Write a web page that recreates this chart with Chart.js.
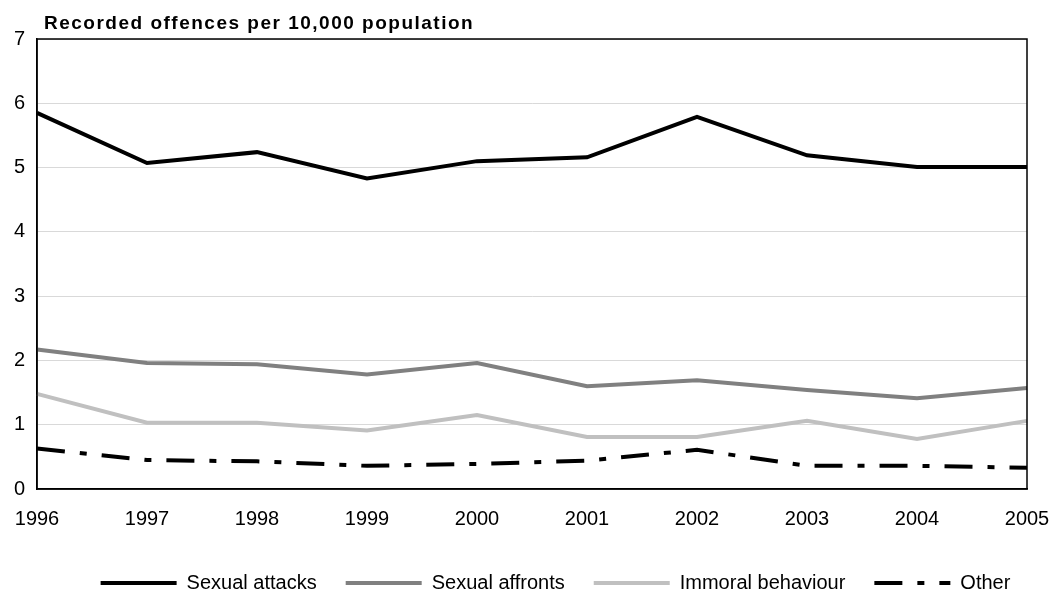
<!DOCTYPE html>
<html>
<head>
<meta charset="utf-8">
<title>Recorded offences per 10,000 population</title>
<script src="https://cdn.jsdelivr.net/npm/chart.js@4/dist/chart.umd.min.js"></script>
<style>
  html, body { margin: 0; padding: 0; background: #ffffff; }
  #wrap { width: 1061px; height: 593px; position: relative; }
</style>
</head>
<body>
<div id="wrap"><canvas id="chart" width="1061" height="593"></canvas></div>
<script>
// Years on the horizontal axis
const years = ['1996', '1997', '1998', '1999', '2000', '2001', '2002', '2003', '2004', '2005'];

// Recorded offences per 10,000 population, by offence type
const sexualAttacks    = [5.85, 5.07, 5.24, 4.83, 5.10, 5.16, 5.79, 5.19, 5.01, 5.01];
const sexualAffronts   = [2.17, 1.96, 1.94, 1.78, 1.96, 1.60, 1.69, 1.54, 1.41, 1.57];
const immoralBehaviour = [1.48, 1.03, 1.03, 0.91, 1.15, 0.81, 0.81, 1.06, 0.78, 1.06];
const otherOffences    = [0.63, 0.45, 0.43, 0.36, 0.39, 0.44, 0.61, 0.36, 0.36, 0.33];

const yTicks = [0, 1, 2, 3, 4, 5, 6, 7];
const titleText = 'Recorded offences per 10,000 population';

const FONT = '"Liberation Sans", Arial, Helvetica, sans-serif';

// Heading above the plot, drawn with slightly widened letter spacing
const headingPlugin = {
  id: 'heading',
  afterDraw(chart) {
    const ctx = chart.ctx;
    ctx.save();
    ctx.font = 'bold 19px ' + FONT;
    if ('letterSpacing' in ctx) ctx.letterSpacing = '1.5px';
    ctx.fillStyle = '#000000';
    ctx.textAlign = 'left';
    ctx.textBaseline = 'alphabetic';
    ctx.fillText(titleText, 44, 29);
    ctx.restore();
  }
};

// Closed frame round the plot area
const framePlugin = {
  id: 'frame',
  afterDatasetsDraw(chart) {
    const a = chart.chartArea;
    const ctx = chart.ctx;
    ctx.save();
    ctx.strokeStyle = '#000000';
    ctx.lineWidth = 1.5;
    ctx.strokeRect(a.left, a.top, a.right - a.left, a.bottom - a.top);
    ctx.restore();
  }
};

// Place the legend row along the bottom edge, a little right of centre
const legendPlacePlugin = {
  id: 'legendPlace',
  afterLayout(chart) {
    const lg = chart.legend;
    if (!lg) return;
    const dx = 42, dy = 10;
    lg.left += dx; lg.right += dx;
    lg.top += dy; lg.bottom += dy;
  }
};

// Legend samples take the line width and dash pattern of their series
function lineLegendLabels(chart) {
  const items = Chart.defaults.plugins.legend.labels.generateLabels(chart);
  items.forEach(item => {
    const ds = chart.data.datasets[item.datasetIndex];
    item.lineWidth = ds.borderWidth;
    item.strokeStyle = ds.borderColor;
    item.lineDash = ds.borderDash || [];
    item.lineCap = 'butt';
  });
  return items;
}

const ctx = document.getElementById('chart').getContext('2d');
new Chart(ctx, {
  type: 'line',
  data: {
    labels: years,
    datasets: [
      {
        label: 'Sexual attacks',
        data: sexualAttacks,
        borderColor: '#000000',
        backgroundColor: '#000000',
        borderWidth: 4
      },
      {
        label: 'Sexual affronts',
        data: sexualAffronts,
        borderColor: '#808080',
        backgroundColor: '#808080',
        borderWidth: 4
      },
      {
        label: 'Immoral behaviour',
        data: immoralBehaviour,
        borderColor: '#c0c0c0',
        backgroundColor: '#c0c0c0',
        borderWidth: 4
      },
      {
        label: 'Other',
        data: otherOffences,
        borderColor: '#000000',
        backgroundColor: '#000000',
        borderWidth: 4,
        borderDash: [28, 15, 7, 15]
      }
    ]
  },
  options: {
    responsive: false,
    animation: false,
    devicePixelRatio: 1,
    layout: { padding: { top: 39, right: 34, left: 0, bottom: 0 } },
    elements: {
      line: { tension: 0, fill: false, borderCapStyle: 'butt', borderJoinStyle: 'miter' },
      point: { radius: 0, hoverRadius: 0 }
    },
    scales: {
      x: {
        type: 'category',
        offset: false,
        grid: { display: false, drawTicks: true, tickLength: 15 },
        border: { display: true, color: '#000000', width: 1.5 },
        ticks: {
          color: '#000000',
          font: { family: FONT, size: 20 },
          padding: 3,
          maxRotation: 0,
          autoSkip: false
        },
        afterFit(scale) { scale.height = 45; }
      },
      y: {
        min: 0,
        max: 7,
        afterBuildTicks(scale) { scale.ticks = yTicks.map(v => ({ value: v })); },
        grid: { color: '#d9d9d9', lineWidth: 1, drawTicks: false },
        border: { display: true, color: '#000000', width: 1.5 },
        ticks: {
          color: '#000000',
          font: { family: FONT, size: 20 },
          padding: 12
        },
        afterFit(scale) { scale.width = 37; }
      }
    },
    plugins: {
      title: { display: false },
      tooltip: { enabled: false },
      legend: {
        display: true,
        position: 'bottom',
        labels: {
          color: '#000000',
          font: { family: FONT, size: 20 },
          usePointStyle: true,
          pointStyle: 'line',
          pointStyleWidth: 76,
          boxHeight: 20,
          padding: 29,
          generateLabels: lineLegendLabels
        }
      }
    }
  },
  plugins: [headingPlugin, framePlugin, legendPlacePlugin]
});
</script>
</body>
</html>
